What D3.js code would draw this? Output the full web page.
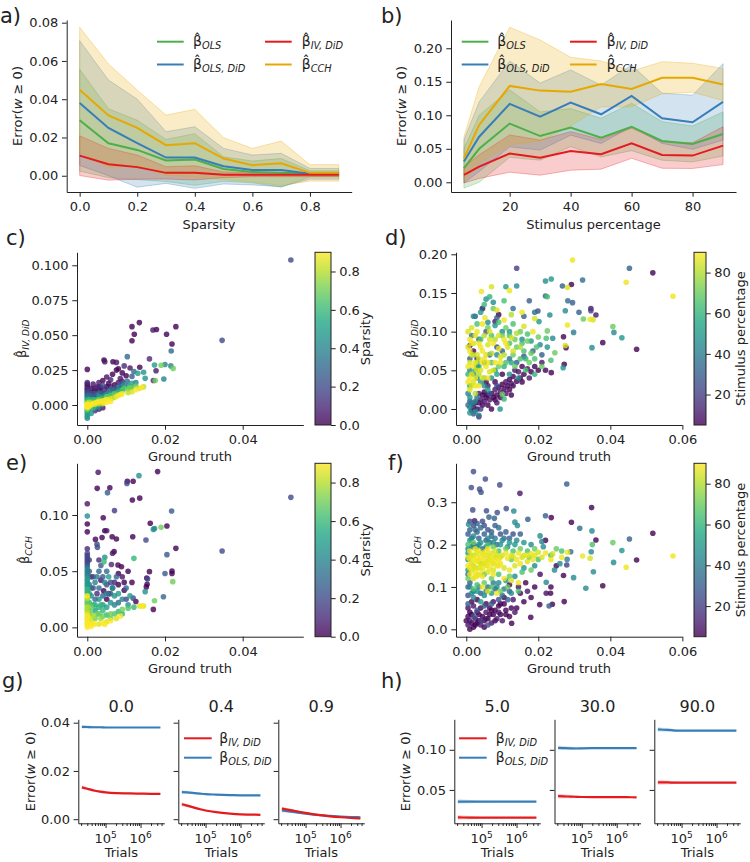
<!DOCTYPE html>
<html>
<head>
<meta charset="utf-8">
<script src="https://cdn.jsdelivr.net/npm/d3@7"></script>
<style>
  body { margin: 0; background: #fff; }
  svg text { font-family: "DejaVu Sans", sans-serif; }
</style>
</head>
<body>
<svg id="fig" width="750" height="862"></svg>
<script>
// ---------- data: panel a (sparsity sweep) ----------
const sparsity = [0, 0.1, 0.2, 0.3, 0.4, 0.5, 0.6, 0.7, 0.8, 0.9];
const aOLS      = [0.029, 0.017, 0.0135, 0.008, 0.0085, 0.0035, 0.002, 0.0015, 0.001, 0.001];
const aOLSsd    = [0.0266, 0.018, 0.0155, 0.011, 0.0135, 0.0064, 0.0057, 0.0075, 0.0016, 0.0016];
const aOLSDiD   = [0.038, 0.025, 0.017, 0.0095, 0.0095, 0.005, 0.003, 0.003, 0.001, 0.001];
const aOLSDiDsd = [0.0326, 0.025, 0.023, 0.0135, 0.0161, 0.0093, 0.0078, 0.0087, 0.0028, 0.0028];
const aIV       = [0.0105, 0.006, 0.0045, 0.0015, 0.0015, 0.0005, 0.0005, 0.0005, 0.0005, 0.0005];
const aIVsd     = [0.0104, 0.0083, 0.0063, 0.0032, 0.0037, 0.0015, 0.001, 0.001, 0.001, 0.001];
const aCCH      = [0.045, 0.0315, 0.025, 0.016, 0.017, 0.009, 0.0055, 0.0065, 0.0015, 0.0015];
const aCCHsd    = [0.0326, 0.0269, 0.0198, 0.0157, 0.0177, 0.0109, 0.0088, 0.0116, 0.0043, 0.0043];

// ---------- data: panel b (stimulus percentage sweep) ----------
const stimulus = [5, 10, 20, 30, 40, 50, 60, 70, 80, 90];
const bOLS      = [0.021, 0.05, 0.0876, 0.069, 0.0816, 0.0667, 0.0826, 0.0617, 0.0572, 0.0721];
const bOLSsd    = [0.0297, 0.05, 0.0504, 0.036, 0.0284, 0.0288, 0.0354, 0.0288, 0.0268, 0.0329];
const bOLSDiD   = [0.031, 0.068, 0.117, 0.098, 0.119, 0.1015, 0.129, 0.0955, 0.0896, 0.12];
const bOLSDiDsd = [0.032, 0.052, 0.064, 0.05, 0.0487, 0.0435, 0.046, 0.0375, 0.0404, 0.057];
const bIV       = [0.011, 0.0234, 0.0428, 0.0368, 0.0468, 0.0418, 0.0582, 0.0408, 0.0398, 0.0547];
const bIVsd     = [0.012, 0.0176, 0.0278, 0.0262, 0.0288, 0.0222, 0.0224, 0.0199, 0.0192, 0.0283];
const bCCH      = [0.0358, 0.0856, 0.1438, 0.1368, 0.1353, 0.1468, 0.1393, 0.156, 0.156, 0.146];
const bCCHsd    = [0.032, 0.057, 0.0875, 0.0756, 0.0513, 0.0342, 0.0267, 0.024, 0.0216, 0.024];

// ---------- data: scatter panels, [ground truth, estimate, colour value] ----------
const cIV = [
  [0,-0.0095,0.4],[0,-0.008,0.5],[0,-0.0065,0.4],[0,-0.005,0.5],[0,-0.004,0.6],[0,-0.003,0.7],[0,-0.002,0.8],[0,-0.001,0.9],[0,0,0.9],[0,0.001,0.8],
  [0,0.002,0.7],[0,0.003,0.6],[0,0.004,0.5],[0,0.005,0.4],[0,0.006,0.3],[0,0.007,0.3],[0,0.008,0.2],[0,0.009,0.2],[0,0.010,0.1],[0,0.011,0.1],
  [0,0.012,0.1],[0,0.0135,0],[0,0.015,0],[0,0.016,0.1],[0,0.0255,0],[0,-0.0015,0.9],[0,0.0005,0.9],[0.0005,-0.001,0.9],[0.0005,0.002,0.8],
  [0.001,0.0005,0.9],[0.0015,0.001,0.9],[0.002,0.0015,0.85],[0.0025,0.002,0.9],[0.003,0.0025,0.9],[0.0035,0.0025,0.85],[0.004,0.003,0.9],[0.0045,0.0035,0.8],
  [0.005,0.004,0.9],[0.006,0.0045,0.85],[0.0065,0.005,0.8],[0.0075,0.006,0.9],[0.008,0.007,0.85],[0.0085,0.0075,0.9],[0.009,0.008,0.9],[0.0105,0.009,0.8],
  [0.0115,0.0095,0.85],[0.0125,0.011,0.9],[0.0133,0.0118,0.85],[0.014,0.0125,0.9],[0.0145,0.013,0.8],
  [0.001,0.002,0.7],[0.002,0.003,0.65],[0.003,0.004,0.7],[0.004,0.005,0.6],[0.005,0.006,0.7],[0.006,0.007,0.65],[0.007,0.008,0.7],[0.008,0.009,0.6],
  [0.009,0.0105,0.65],[0.0105,0.0115,0.7],[0.0115,0.0125,0.6],[0.0125,0.0135,0.7],[0.0175,0.0175,0.7],[0.019,0.0285,0.7],[0.0221,0.0262,0.7],[0.0095,0.012,0.65],[0.011,0.0125,0.7],
  [0.001,0.003,0.5],[0.002,0.004,0.45],[0.003,0.006,0.5],[0.004,0.0055,0.4],[0.005,0.0075,0.45],[0.006,0.008,0.5],[0.007,0.0095,0.4],[0.008,0.0105,0.5],
  [0.009,0.0115,0.45],[0.0095,0.0145,0.45],[0.0105,0.0135,0.4],[0.0115,0.0155,0.5],[0.0125,0.016,0.4],[0.013,0.0227,0.5],[0.0145,0.0235,0.45],[0.0149,0.0191,0.45],
  [0.0173,0.0286,0.5],[0.0197,0.0186,0.4],[0.02,0.029,0.4],[0.0215,0.028,0.4],[0.002,-0.002,0.5],[0.003,-0.001,0.45],[0.0015,0.0015,0.5],
  [0.001,0.006,0.3],[0.002,0.007,0.25],[0.003,0.0085,0.3],[0.004,0.008,0.2],[0.005,0.0095,0.25],[0.006,0.011,0.3],[0.007,0.012,0.2],[0.008,0.013,0.3],
  [0.009,0.015,0.25],[0.0103,0.0346,0.3],[0.0103,0.017,0.3],[0.012,0.024,0.3],[0.0216,0.0387,0.3],[0.0524,0.1038,0.2],[0.0347,0.0463,0.2],[0.0115,0.0205,0.25],[0.004,0.014,0.2],
  [0.001,0.009,0.05],[0.001,0.012,0],[0.0015,0.015,0.05],[0.002,0.01,0],[0.0025,0.013,0.1],[0.003,0.011,0],[0.003,0.016,0.05],[0.0035,0.0125,0],
  [0.004,0.0175,0],[0.0043,0.0322,0],[0.0045,0.031,0.05],[0.005,0.013,0],[0.005,0.02,0.05],[0.0055,0.0155,0],[0.006,0.018,0.1],[0.0066,0.031,0],
  [0.0065,0.022,0],[0.007,0.0145,0],[0.0075,0.0305,0.05],[0.0075,0.025,0],[0.008,0.026,0],[0.0085,0.019,0.05],[0.009,0.023,0],[0.0095,0.028,0.1],
  [0.01,0.021,0],[0.0115,0.0561,0],[0.0134,0.059,0],[0.0121,0.0506,0],[0.0115,0.046,0],[0.0169,0.0537,0.05],[0.0178,0.054,0],[0.0204,0.0506,0],
  [0.0228,0.0561,0],[0.0218,0.0437,0],[0.016,0.033,0.1],[0.017,0.0175,0.1],[0.0135,0.027,0],[0.011,0.0265,0.05],[0.003,-0.003,0.1],[0.002,-0.004,0.1],
  [0.004,-0.002,0.05],[0.0015,0.006,0.1],[0.0025,0.005,0.05],[0.0177,0.0245,0.05],
  [0.0005,0.004,0.6],[0.0005,0.007,0.3],[0.0005,0.01,0.15],[0.001,0,0.85],[0.0015,0.004,0.6],[0.0015,0.008,0.2],[0.002,0.0005,0.85],[0.0025,0.006,0.3],
  [0.0025,0.0035,0.6],[0.003,0.001,0.8],[0.0035,0.005,0.5],[0.0035,0.009,0.1],[0.004,0.001,0.85],[0.0045,0.007,0.4],[0.0045,0.011,0.1],[0.005,0.002,0.9],
  [0.0055,0.0075,0.3],[0.006,0.0025,0.9],[0.006,0.013,0.05],[0.0065,0.0095,0.3],[0.007,0.006,0.6],[0.0075,0.011,0.15],[0.008,0.016,0.05],[0.0085,0.012,0.3],
  [0.009,0.017,0.1],[0.0005,-0.003,0.45],[0.001,-0.006,0.45],[0.0015,-0.002,0.6],[0.003,0.013,0.1],[0.002,0.012,0.05]
];
const dIV = [
  [0.0295,0.1927,88],[0.0444,0.1638,88],[0.0574,0.1457,88],[0.0281,0.157,85],[0.0344,0.116,88],[0.0352,0.1155,85],[0.0281,0.1086,88],[0.0275,0.082,85],
  [0.0042,0.152,88],[0.007,0.158,85],[0.012,0.153,88],[0.0085,0.128,85],[0.0052,0.118,88],[0.0015,0.105,85],[0.003,0.1,88],[0.005,0.095,80],
  [0.001,0.09,88],[0.002,0.085,85],[0.004,0.08,88],[0.006,0.083,85],[0.008,0.09,80],[0.001,0.075,88],[0.003,0.07,85],[0.005,0.065,88],
  [0.007,0.072,80],[0.009,0.078,85],[0.011,0.085,88],[0.0125,0.092,85],[0.014,0.098,80],[0.016,0.107,85],[0.0185,0.1,88],[0.001,0.06,85],
  [0.002,0.055,88],[0.004,0.05,85],[0.0055,0.055,88],[0.0035,0.045,80],[0.001,0.04,88],[0.002,0.035,85],[0.0035,0.03,88],[0.001,0.025,85],
  [0.0025,0.02,80],[0.0065,0.048,85],[0.008,0.06,88],[0.0095,0.067,85],[0.0105,0.07,80],[0.013,0.075,85],[0.015,0.08,80],[0.0155,0.125,88],
  [0.019,0.117,85],[0.0105,0.115,88],[0.0125,0.122,80],
  [0.0005,0.035,88],[0.0015,0.045,85],[0.0025,0.04,88],[0.003,0.05,85],[0.0045,0.06,88],[0.0035,0.065,85],[0.0025,0.06,88],[0.0015,0.07,85],
  [0.0045,0.075,88],[0.0055,0.07,85],[0.006,0.06,88],[0.0065,0.09,85],[0.0035,0.085,88],[0.0025,0.095,85],[0.0045,0.11,88],[0.0065,0.1,85],
  [0.0075,0.085,88],[0.009,0.095,85],[0.0105,0.09,88],[0.0115,0.08,85],[0.0095,0.06,88],[0.0075,0.05,85],[0.0005,0.055,88],[0.0005,0.08,85],
  [0.0015,0.085,88],[0.0005,0.1,85],[0.0025,0.03,88],[0.0045,0.04,85],[0.006,0.04,88],[0.0015,0.03,85],
  [0.0407,0.1065,70],[0.0225,0.145,65],[0.0246,0.0728,70],[0.0222,0.0915,65],[0.0225,0.101,70],[0.0325,0.1164,70],[0.003,0.11,65],[0.006,0.105,70],
  [0.009,0.112,65],[0.011,0.105,70],[0.013,0.11,65],[0.015,0.1,70],[0.017,0.097,65],[0.02,0.093,70],[0.007,0.095,65],[0.01,0.095,70],
  [0.012,0.085,65],[0.014,0.08,70],[0.016,0.075,65],[0.018,0.072,70],[0.019,0.065,65],[0.0175,0.06,70],[0.015,0.065,65],[0.013,0.07,70],
  [0.011,0.06,65],[0.009,0.055,70],[0.007,0.06,65],[0.005,0.04,70],[0.003,0.06,65],[0.002,0.07,70],[0.004,0.09,65],[0.0135,0.055,70],
  [0.0165,0.05,65],[0.021,0.055,70],[0.01,0.019,70],[0.0105,0.013,62],[0.019,0.045,60],[0.0075,0.13,70],[0.0105,0.14,65],[0.005,0.135,62],
  [0.0065,0.145,60],[0.0235,0.063,65],
  [0.012,0.095,65],[0.0135,0.09,70],[0.0155,0.085,65],[0.017,0.088,70],[0.0195,0.08,65],[0.0165,0.065,60],[0.0125,0.06,55],[0.0105,0.055,60],
  [0.0085,0.045,55],[0.0025,0.05,60],[0.0035,0.055,55],[0.0005,0.045,60],[0.001,0.03,55],[0.0005,0.02,40],[0.0015,0.008,40],[0.0005,0.005,35],
  [0.041,0.099,45],[0.0432,0.0922,50],[0.0349,0.0793,45],[0.0236,0.168,50],[0.022,0.1655,45],[0.024,0.0915,45],[0.0232,0.1216,45],[0.0202,0.113,50],
  [0.0269,0.0534,50],[0.0275,0.127,45],[0.0094,0,48],[0.0055,0.142,48],[0.014,0.159,45],[0.011,0.158,50],[0.0075,0.138,45],[0.002,0.12,45],
  [0.004,0.125,50],[0.006,0.112,45],[0.008,0.108,50],[0.01,0.1,45],[0.012,0.1,50],[0.0155,0.09,45],[0.018,0.088,50],[0.0205,0.083,45],
  [0.0225,0.08,50],[0.001,0.05,45],[0.002,0.045,50],[0.003,0.04,45],[0.004,0.035,50],[0.005,0.03,45],[0.006,0.025,50],[0.007,0.04,45],
  [0.008,0.05,50],[0.0085,0.07,45],[0.001,0.015,50],[0.0025,0.01,45],[0.001,0.002,45],[0.0025,-0.003,45],[0.001,-0.005,50],[0.0035,-0.008,40],
  [0.012,0.045,50],[0.0145,0.04,45],
  [0.014,0.182,20],[0.0453,0.182,30],[0.0323,0.1668,35],[0.0267,0.159,30],[0.022,0.146,30],[0.0313,0.125,30],[0.0295,0.1375,30],[0.0282,0.14,35],
  [0.0298,0.099,40],[0.0199,0.1267,25],[0.0346,0.127,20],[0.0045,0.13,25],[0.0025,0.12,30],[0.0015,0.095,35],[0.0035,0.09,30],[0.0055,0.1,25],
  [0.0085,0.118,30],[0.013,0.13,35],[0.016,0.12,30],[0.0175,0.14,30],[0.019,0.125,35],[0.001,0.065,30],[0.003,0.055,25],[0.005,0.06,35],
  [0.0065,0.07,30],[0.0085,0.08,25],[0.01,0.075,30],[0.012,0.065,35],[0.014,0.06,30],[0.016,0.068,25],[0.0185,0.075,30],[0.021,0.07,30],
  [0.001,0.01,30],[0.002,0.005,25],[0.003,0.015,35],[0.004,0,20],[0.002,-0.006,25],[0.0035,-0.01,15],[0.0065,0.02,30],[0.0085,0.03,25],
  [0.0518,0.176,5],[0.0379,0.0858,5],[0.0473,0.0772,5],[0.0346,0.13,10],[0.036,0.1216,10],[0.0292,0.161,5],[0.027,0.0935,5],[0.0277,0.0793,5],
  [0.0272,0.0578,5],[0.0236,0.047,5],[0.009,0.122,5],[0.008,0.113,10],[0.0045,0.13,10],[0.001,0.082,10],[0.002,0.075,5],[0.003,0.065,10],
  [0.003,0,5],[0.0045,0.005,5],[0.005,0.01,10],[0.0055,0.015,5],[0.006,0.005,5],[0.0065,0.012,10],[0.007,0.02,5],[0.0075,0.015,5],
  [0.008,0.025,10],[0.0085,0.018,5],[0.009,0.028,5],[0.0095,0.022,10],[0.01,0.032,5],[0.0105,0.026,5],[0.011,0.035,10],[0.0115,0.03,5],
  [0.012,0.038,5],[0.0125,0.033,10],[0.013,0.042,5],[0.014,0.036,5],[0.0145,0.048,10],[0.015,0.04,5],[0.016,0.045,5],[0.017,0.052,10],
  [0.018,0.048,5],[0.019,0.055,5],[0.021,0.06,10],[0.022,0.05,5],[0.0155,0.055,5],[0.0135,0.05,10],[0.01,0.045,5],[0.008,0.035,5],
  [0.006,0.03,10],[0.005,0.022,5],[0.004,0.012,10],[0.002,0.002,5],[0.0035,0.008,5],[0.0015,-0.002,10],[0.007,0,5],[0.0085,0.008,10],
  [0.0025,0.008,5],[0.0045,0.018,5],[0.006,0.018,5],[0.008,0.012,5],[0.0095,0.015,5],[0.011,0.02,10],[0.012,0.025,5],[0.013,0.03,5],
  [0.0125,0.018,5],[0.0155,0.035,5],[0.0175,0.04,10],[0.02,0.05,5],[0.0035,0.02,10],[0.0055,0.035,5]
];
const eCCH = [
  [0,0,0.9],[0,0.002,0.9],[0,0.004,0.85],[0,0.006,0.9],[0,0.008,0.8],[0,0.01,0.9],[0,0.012,0.85],[0,0.014,0.8],[0,0.016,0.7],[0,0.018,0.8],
  [0,0.02,0.7],[0,0.022,0.6],[0,0.024,0.7],[0,0.026,0.8],[0,0.028,0.9],[0,0.03,0.6],[0,0.032,0.5],[0,0.034,0.6],[0,0.036,0.5],[0,0.038,0.4],
  [0,0.04,0.5],[0,0.042,0.4],[0,0.044,0.5],[0,0.046,0.3],[0,0.048,0.4],[0,0.05,0.3],[0,0.052,0.4],[0,0.054,0.3],[0,0.056,0.2],[0,0.058,0.2],
  [0,0.06,0.1],[0,0.062,0.2],[0,0.064,0.1],[0,0.066,0.2],[0,0.07,0.1],[0,0.085,0],[0,0.092,0],[0,0.099,0.45],[0,0.11,0.05],
  [0.001,0.001,0.9],[0.001,0.005,0.85],[0.0015,0.003,0.9],[0.001,0.012,0.7],[0.0015,0.02,0.6],[0.002,0.008,0.7],[0.002,0.015,0.5],[0.002,0.025,0.3],
  [0.0015,0.035,0.2],[0.001,0.045,0.1],[0.002,0.04,0.4],[0.0025,0.03,0.1],[0.0021,0.0783,0],[0.0025,0.074,0.2],[0.0026,0.0712,0.2],[0.003,0.06,0.1],
  [0.003,0.05,0.3],[0.0028,0.138,0.05],[0.00255,0.1237,0],
  [0.003,0.003,0.85],[0.004,0.004,0.9],[0.005,0.005,0.85],[0.006,0.006,0.9],[0.0075,0.008,0.85],[0.0085,0.01,0.9],[0.0135,0.019,0.85],[0.014,0.019,0.9],
  [0.0145,0.019,0.85],[0.0045,0.0025,0.9],
  [0.003,0.012,0.65],[0.004,0.01,0.7],[0.005,0.011,0.6],[0.006,0.012,0.7],[0.007,0.012,0.65],[0.008,0.014,0.6],[0.009,0.016,0.7],[0.0105,0.017,0.65],
  [0.012,0.018,0.6],[0.0043,0.0585,0.6],[0.012,0.0614,0.6],[0.0173,0.0237,0.7],[0.022,0.0407,0.7],[0.019,0.089,0.7],[0.0035,0.02,0.6],
  [0.003,0.025,0.45],[0.004,0.02,0.5],[0.005,0.03,0.4],[0.006,0.022,0.45],[0.0065,0.035,0.5],[0.007,0.028,0.45],[0.008,0.03,0.5],[0.009,0.025,0.4],
  [0.0105,0.02,0.45],[0.011,0.028,0.5],[0.0045,0.0623,0.45],[0.0149,0.0318,0.45],[0.0133,0.135,0.45],[0.017,0.0872,0.45],[0.0045,0.04,0.4],[0.0055,0.045,0.5],
  [0.003,0.035,0.3],[0.004,0.045,0.25],[0.005,0.05,0.3],[0.006,0.04,0.2],[0.0075,0.045,0.3],[0.0102,0.128,0.2],[0.0052,0.1199,0.25],[0.007,0.1039,0.15],
  [0.0217,0.1036,0.25],[0.0151,0.0777,0.2],[0.0205,0.0647,0.25],[0.02,0.048,0.25],[0.0196,0.0273,0.3],[0.0524,0.1157,0.2],[0.0347,0.068,0.2],[0.0173,0.088,0.4],
  [0.0155,0.043,0.2],[0.0118,0.026,0.2],[0.01,0.035,0.3],[0.0035,0.055,0.25],
  [0.0181,0.1386,0],[0.0103,0.13,0],[0.0118,0.13,0],[0.0058,0.1243,0],[0.0116,0.1134,0],[0.0135,0.115,0],[0.0041,0.0976,0],[0.0162,0.0926,0],
  [0.0205,0.0902,0],[0.0045,0.086,0],[0.005,0.086,0.05],[0.0038,0.08,0],[0.0064,0.0807,0],[0.0075,0.0786,0],[0.0117,0.0807,0],[0.0228,0.0703,0],
  [0.0069,0.0674,0],[0.0065,0.066,0.05],[0.0079,0.0555,0],[0.0088,0.054,0],[0.0218,0.0501,0],[0.0218,0.048,0],[0.017,0.016,0],[0.016,0.0496,0],
  [0.0153,0.044,0],[0.0154,0.0383,0],[0.0152,0.036,0],[0.008,0.048,0],[0.009,0.045,0.05],[0.0095,0.04,0],[0.0065,0.035,0],[0.0055,0.03,0.05],
  [0.008,0.038,0],[0.0095,0.033,0],[0.0115,0.04,0],[0.0125,0.023,0],[0.005,0.025,0],[0.0035,0.042,0.05],[0.0042,0.0325,0],[0.0105,0.05,0],[0.0062,0.056,0.1],
  [0.0005,0.003,0.9],[0.0005,0.007,0.85],[0.0005,0.015,0.7],[0.0005,0.022,0.6],[0.0005,0.03,0.5],[0.0005,0.038,0.35],[0.0005,0.05,0.25],[0.0005,0.06,0.15],
  [0.001,0.018,0.7],[0.001,0.028,0.45],[0.001,0.035,0.3],[0.0015,0.01,0.8],[0.0015,0.045,0.2],[0.002,0.003,0.9],[0.002,0.02,0.55],[0.0025,0.012,0.7],
  [0.0025,0.045,0.35],[0.003,0.018,0.55],[0.0035,0.008,0.75],[0.004,0.015,0.6],[0.004,0.028,0.3],[0.005,0.018,0.5],[0.005,0.038,0.2],[0.006,0.008,0.7],
  [0.006,0.03,0.25],[0.007,0.02,0.4],[0.007,0.04,0.1],[0.008,0.022,0.3],[0.009,0.012,0.6],[0.01,0.025,0.2]
];
const fCCH = [
  [0.0574,0.1732,88],[0.0444,0.1465,88],[0.0323,0.1732,88],[0.0344,0.1677,85],[0.0281,0.182,88],[0.0265,0.17,88],[0.024,0.178,85],[0.022,0.18,88],
  [0.02,0.182,85],[0.018,0.178,88],[0.016,0.175,85],[0.0145,0.18,88],[0.013,0.172,85],[0.0115,0.168,88],[0.01,0.175,85],[0.009,0.165,88],
  [0.008,0.17,85],[0.007,0.16,88],[0.006,0.175,85],[0.005,0.165,88],[0.004,0.155,85],[0.003,0.16,88],[0.002,0.15,85],[0.001,0.165,88],
  [0.0015,0.14,85],[0.0025,0.135,88],[0.0035,0.145,85],[0.0045,0.14,88],[0.0055,0.15,85],[0.0065,0.145,88],[0.0075,0.14,85],[0.0085,0.15,88],
  [0.001,0.13,88],[0.002,0.12,85],[0.003,0.125,88],[0.004,0.17,88],[0.002,0.175,85],[0.001,0.185,88],[0.003,0.18,85],[0.0055,0.185,88],
  [0.007,0.18,85],[0.0095,0.155,88],[0.0105,0.145,85],[0.012,0.14,88],[0.0135,0.15,85],[0.015,0.155,88],[0.017,0.16,85],[0.0185,0.165,88],
  [0.021,0.17,85],[0.0235,0.165,88],[0.0105,0.12,88],[0.0125,0.115,85],[0.0145,0.11,88],[0.0045,0.1,88],[0.006,0.09,85],[0.0085,0.085,88],
  [0.0005,0.15,88],[0.0005,0.17,85],[0.0025,0.19,85],
  [0.001,0.145,88],[0.0015,0.155,85],[0.002,0.165,88],[0.0025,0.145,85],[0.003,0.17,88],[0.0035,0.16,85],[0.004,0.145,88],[0.0045,0.155,85],
  [0.005,0.175,88],[0.0055,0.16,85],[0.006,0.155,88],[0.0065,0.165,85],[0.007,0.17,88],[0.0075,0.155,85],[0.008,0.16,88],[0.0085,0.175,85],
  [0.009,0.15,88],[0.0095,0.17,85],[0.0025,0.125,88],[0.0035,0.13,85],[0.0045,0.125,88],[0.006,0.135,85],[0.0075,0.13,88],[0.0015,0.175,85],
  [0.0035,0.185,88],[0.0045,0.18,85],[0.006,0.19,88],[0.008,0.185,85],[0.011,0.18,88],[0.0125,0.175,85],[0.014,0.165,88],[0.0155,0.17,85],
  [0.017,0.175,88],[0.019,0.175,85],
  [0.0407,0.2047,70],[0.035,0.2,65],[0.025,0.19,70],[0.0265,0.185,65],[0.019,0.19,70],[0.017,0.185,65],[0.015,0.19,70],[0.013,0.185,65],
  [0.011,0.19,70],[0.009,0.185,65],[0.0075,0.195,70],[0.006,0.2,65],[0.0175,0.17,70],[0.02,0.165,65],[0.0125,0.165,70],[0.005,0.13,65],
  [0.007,0.12,70],[0.009,0.13,65],[0.012,0.125,70],[0.0155,0.135,65],[0.018,0.14,70],[0.003,0.105,65],[0.005,0.11,70],[0.007,0.1,65],
  [0.0115,0.1,70],[0.0145,0.09,65],[0.0095,0.09,70],[0.002,0.095,65],[0.0005,0.12,70],[0.0005,0.2,65],[0.002,0.205,70],[0.0235,0.175,62],
  [0.0432,0.1858,50],[0.0409,0.158,45],[0.0353,0.136,45],[0.0332,0.0969,45],[0.0298,0.122,45],[0.0315,0.2386,35],[0.0349,0.2323,45],[0.0347,0.183,45],
  [0.0205,0.2205,45],[0.0135,0.253,45],[0.0142,0.245,45],[0.0132,0.2795,45],[0.00065,0.248,45],[0.0222,0.111,45],[0.0214,0.195,45],[0.021,0.207,40],
  [0.018,0.2,45],[0.016,0.205,50],[0.014,0.21,45],[0.012,0.205,50],[0.01,0.21,45],[0.008,0.215,40],[0.006,0.215,45],[0.004,0.205,50],
  [0.002,0.22,45],[0.001,0.21,50],[0.003,0.195,45],[0.0005,0.19,45],[0.0005,0.18,50],[0.001,0.1,45],[0.003,0.09,50],[0.005,0.08,45],
  [0.007,0.085,50],[0.009,0.11,45],[0.011,0.115,50],[0.0135,0.125,45],[0.016,0.145,50],[0.019,0.15,45],[0.0005,0.14,50],[0.002,0.075,45],
  [0.004,0.065,50],[0.0245,0.14,45],[0.026,0.155,45],[0.028,0.165,40],
  [0.0015,0.085,45],[0.0035,0.1,40],[0.0055,0.09,45],[0.0075,0.11,40],[0.0085,0.1,45],[0.0105,0.095,40],[0.0125,0.085,45],
  [0.0015,0.195,40],[0.0035,0.2,45],[0.0055,0.195,45],[0.0075,0.205,45],[0.0095,0.2,50],[0.0115,0.195,45],[0.0135,0.2,50],[0.0005,0.165,40],
  [0.0005,0.13,35],[0.0005,0.1,30],
  [0.002,0.3724,25],[0.0014,0.335,25],[0.0053,0.355,25],[0.0037,0.331,25],[0.0041,0.3236,25],[0.0093,0.341,25],[0.0279,0.343,30],[0.0453,0.2134,30],
  [0.022,0.268,30],[0.0171,0.26,30],[0.0111,0.285,25],[0.0086,0.2756,25],[0.0063,0.265,30],[0.0078,0.262,30],[0.0056,0.28,25],[0.0018,0.282,25],
  [0.0279,0.152,20],[0.029,0.183,35],[0.023,0.055,30],[0.001,0.235,30],[0.002,0.245,25],[0.003,0.23,30],[0.004,0.24,35],[0.005,0.225,30],
  [0.006,0.235,25],[0.007,0.23,30],[0.009,0.24,35],[0.011,0.23,30],[0.013,0.225,25],[0.015,0.225,30],[0.0005,0.225,30],[0.001,0.255,25],
  [0.003,0.25,30],[0.0045,0.255,25],[0.002,0.2,30],[0.0045,0.19,35],[0.0065,0.205,30],[0.0085,0.2,35],[0.001,0.11,30],[0.002,0.09,35],
  [0.004,0.085,30],[0.006,0.1,35],[0.008,0.095,30],[0.01,0.08,35],[0.012,0.09,30],[0.0005,0.06,30],[0.003,0.045,25],[0.005,0.055,30],
  [0.007,0.06,30],[0.009,0.07,25],[0.0115,0.07,30],[0.002,0.03,25],[0.004,0.02,20],[0.006,0.01,25],[0.0005,0.08,25],
  [0.0015,0.215,30],[0.0025,0.235,35],[0.0035,0.215,30],[0.005,0.245,25],[0.0055,0.21,30],[0.007,0.22,35],[0.008,0.245,30],[0.0095,0.225,25],
  [0.0105,0.215,35],[0.012,0.215,30],
  [0.0149,0.321,10],[0.0348,0.2874,5],[0.0292,0.2528,5],[0.036,0.211,5],[0.0518,0.2268,5],[0.0473,0.1638,5],[0.0379,0.103,5],[0.027,0.127,5],
  [0.0272,0.0654,5],[0.0234,0.085,5],[0.0222,0.085,8],[0.0239,0.059,5],[0.0204,0.0583,5],[0.0179,0.0283,5],[0.0126,0.0142,5],[0.0236,0.2638,5],
  [0.0023,0.256,10],[0,0.02,5],[0.0005,0.01,10],[0.001,0,5],[0.0015,0.015,5],[0.002,0.005,5],[0.0025,0.025,10],[0.003,0.015,5],
  [0.0035,0.035,5],[0.004,0.01,10],[0.0045,0.03,5],[0.005,0.02,5],[0.0055,0.04,10],[0.006,0.025,5],[0.0065,0.05,5],[0.007,0.015,10],
  [0.0075,0.035,5],[0.008,0.045,5],[0.0085,0.025,10],[0.009,0.055,5],[0.0095,0.035,5],[0.01,0.02,10],[0.0105,0.06,5],[0.011,0.045,5],
  [0.012,0.03,5],[0.013,0.07,10],[0.014,0.05,5],[0.015,0.085,5],[0.016,0.065,5],[0.017,0.09,10],[0.018,0.075,5],[0.019,0.1,5],
  [0.0165,0.11,5],[0.0145,0.1,8],[0.012,0.105,5],[0.001,0.04,5],[0.002,0.055,10],[0.003,0.07,5],[0.0005,0.05,8],[0.0015,0.065,5],
  [0.025,0.15,5],[0.0235,0.1,5],[0.0205,0.13,8],[0.022,0.21,5],
  [0.0005,0.03,5],[0.001,0.02,10],[0.0015,0.035,5],[0.0025,0.01,5],[0.003,0.04,10],[0.0035,0.02,5],[0.004,0.05,5],[0.005,0.005,5],
  [0.0055,0.025,10],[0.0065,0.035,5],[0.007,0.045,5],[0.008,0.02,5],[0.009,0.04,10],[0.0095,0.06,5],[0.011,0.035,5],[0.0125,0.05,5],
  [0.0135,0.04,10],[0.0055,0.06,5],[0.0075,0.065,8],[0.0105,0.075,5]
];

// ---------- data: panels g/h (error vs number of trials) ----------
const trials = [2.1e4, 3e4, 5e4, 7e4, 1e5, 2e5, 5e5, 1e6, 2e6, 3.7e6];
const gTitles = ["0.0", "0.4", "0.9"];
const gIV = [
  [0.0132, 0.0126, 0.0118, 0.0114, 0.0111, 0.0108, 0.0107, 0.0106, 0.0105, 0.0105],
  [0.0062, 0.0056, 0.0047, 0.0041, 0.0036, 0.0029, 0.0023, 0.002, 0.0019, 0.0018],
  [0.0044, 0.004, 0.0034, 0.003, 0.0026, 0.0019, 0.0012, 0.0008, 0.0005, 0.0003]
];
const gOLS = [
  [0.0383, 0.0382, 0.0381, 0.0381, 0.038, 0.038, 0.038, 0.038, 0.038, 0.038],
  [0.0112, 0.0111, 0.0108, 0.0106, 0.0104, 0.0102, 0.01, 0.0099, 0.0099, 0.0099],
  [0.0036, 0.0033, 0.0029, 0.0026, 0.0023, 0.0018, 0.0014, 0.0011, 0.0009, 0.0008]
];
const gSpread = [0.0008, 0.0006, 0.0005, 0.0004, 0.0003, 0.0002, 0.00015, 0.0001, 0.0001, 0.0001];
const hTitles = ["5.0", "30.0", "90.0"];
const hIV = [
  [0.0158, 0.0156, 0.0155, 0.0155, 0.0154, 0.0154, 0.0154, 0.0154, 0.0154, 0.0154],
  [0.0422, 0.042, 0.0416, 0.0414, 0.0412, 0.041, 0.041, 0.0409, 0.0409, 0.0408],
  [0.0594, 0.0594, 0.0592, 0.0591, 0.059, 0.059, 0.059, 0.059, 0.059, 0.059]
];
const hOLS = [
  [0.0355, 0.0355, 0.0354, 0.0354, 0.0354, 0.0354, 0.0354, 0.0354, 0.0354, 0.0354],
  [0.1025, 0.1022, 0.1018, 0.1016, 0.1018, 0.102, 0.102, 0.102, 0.102, 0.102],
  [0.1255, 0.125, 0.1245, 0.124, 0.1238, 0.1238, 0.1238, 0.1238, 0.1238, 0.1238]
];
const hSpread = [0.003, 0.0025, 0.002, 0.0015, 0.001, 0.0007, 0.0005, 0.0004, 0.0003, 0.0003];

// ---------- style ----------
const INK = "#222";
const FS = 13;
const GREEN = "#4daf4a", BLUE = "#377eb8", RED = "#e41a1c", GOLD = "#e6a800";

const svg = d3.select("#fig");
const defs = svg.append("defs");

function styleAxis(a) {
  a.attr("font-family", null).attr("font-size", null);
  a.select(".domain").attr("stroke", INK).attr("stroke-width", 1);
  a.selectAll(".tick line").attr("stroke", INK).attr("stroke-width", 1);
  a.selectAll(".tick text").attr("fill", INK).attr("font-size", FS);
}

function frame(xs, ys, o) {
  const g = svg.append("g");
  const [l] = xs.range();
  const [b] = ys.range();
  const xa = g.append("g").attr("transform", `translate(0,${b})`)
    .call(d3.axisBottom(xs).tickValues(o.xt).tickFormat(o.xf).tickSize(4.7).tickSizeOuter(0).tickPadding(5));
  const ya = g.append("g").attr("transform", `translate(${l},0)`)
    .call(d3.axisLeft(ys).tickValues(o.yt).tickFormat(o.yf).tickSize(4.7).tickSizeOuter(0).tickPadding(3.7));
  styleAxis(xa);
  styleAxis(ya);
  return {xa, ya};
}

// beta with optional hat and italic subscript
function beta(sel, hat, sub, size) {
  sel.append("tspan").attr("font-size", size).text(hat ? "\u03B2\u0302" : "\u03B2");
  sel.append("tspan").attr("font-size", size * 0.7).attr("font-style", "italic")
    .attr("dy", size * 0.22).text(sub);
  return sel;
}

function errorLabel(x, y) {
  const t = svg.append("text").attr("transform", `translate(${x},${y}) rotate(-90)`)
    .attr("text-anchor", "middle").attr("font-size", FS).attr("fill", INK);
  t.append("tspan").text("Error(");
  t.append("tspan").attr("font-style", "italic").text("w");
  t.append("tspan").text(" \u2265 0)");
}

function text(x, y, s, o = {}) {
  return svg.append("text").attr("x", x).attr("y", y).attr("fill", INK)
    .attr("font-size", o.size || FS).attr("text-anchor", o.anchor || "start").text(s);
}

function rotText(x, y, s) {
  return svg.append("text").attr("transform", `translate(${x},${y}) rotate(-90)`)
    .attr("text-anchor", "middle").attr("font-size", FS).attr("fill", INK).text(s);
}

function legendItem(x1, x2, y, tx, color, hat, sub) {
  svg.append("line").attr("x1", x1).attr("x2", x2).attr("y1", y).attr("y2", y)
    .attr("stroke", color).attr("stroke-width", 2);
  const t = svg.append("text").attr("x", tx).attr("y", y + 4.5).attr("fill", INK);
  beta(t, hat, sub, 14);
}

// ---------- panels a & b ----------
function sweepPanel(p) {
  const xs = d3.scaleLinear().domain(p.xd).range([p.l, p.r]);
  const ys = d3.scaleLinear().domain(p.yd).range([p.b, p.t]);
  p.series.forEach(s => {
    const area = d3.area()
      .x((d, i) => xs(p.x[i]))
      .y0((d, i) => ys(d - s.sd[i]))
      .y1((d, i) => ys(d + s.sd[i]));
    svg.append("path").datum(s.m).attr("d", area)
      .attr("fill", s.c).attr("fill-opacity", 0.22)
      .attr("stroke", s.c).attr("stroke-opacity", 0.3).attr("stroke-width", 1);
  });
  p.series.forEach(s => {
    const line = d3.line().x((d, i) => xs(p.x[i])).y(d => ys(d));
    svg.append("path").datum(s.m).attr("d", line)
      .attr("fill", "none").attr("stroke", s.c).attr("stroke-width", 2);
  });
  frame(xs, ys, p);
}

const sweepSeries = (m) => [
  {m: m[0], sd: m[1], c: GREEN},
  {m: m[2], sd: m[3], c: BLUE},
  {m: m[4], sd: m[5], c: RED},
  {m: m[6], sd: m[7], c: GOLD}
];

sweepPanel({
  l: 66.7, r: 351.7, t: 20, b: 192, xd: [-0.045, 0.945], yd: [-0.0085, 0.0814],
  x: sparsity, xt: [0, 0.2, 0.4, 0.6, 0.8], xf: d3.format(".1f"),
  yt: [0, 0.02, 0.04, 0.06, 0.08], yf: d3.format(".2f"),
  series: sweepSeries([aOLS, aOLSsd, aOLSDiD, aOLSDiDsd, aIV, aIVsd, aCCH, aCCHsd])
});
sweepPanel({
  l: 451, r: 736, t: 20, b: 192, xd: [0.75, 94.25], yd: [-0.0145, 0.2422],
  x: stimulus, xt: [20, 40, 60, 80], xf: d3.format("d"),
  yt: [0, 0.05, 0.1, 0.15, 0.2], yf: d3.format(".2f"),
  series: sweepSeries([bOLS, bOLSsd, bOLSDiD, bOLSDiDsd, bIV, bIVsd, bCCH, bCCHsd])
});

[[157, 193, 265, 301.7], [461.7, 497.3, 570, 606.7]].forEach(([lx, tx, lx2, tx2]) => {
  legendItem(lx, lx + 26.7, 41.7, tx, GREEN, true, "OLS");
  legendItem(lx, lx + 26.7, 64.5, tx, BLUE, true, "OLS, DiD");
  legendItem(lx2, lx2 + 26.7, 41.7, tx2, RED, true, "IV, DiD");
  legendItem(lx2, lx2 + 26.7, 64.5, tx2, GOLD, true, "CCH");
});
errorLabel(21.5, 106);
errorLabel(406, 106);
text(209, 229, "Sparsity", {anchor: "middle"});
text(593.5, 229, "Stimulus percentage", {anchor: "middle"});

// ---------- scatter panels ----------
function colorbar(x0, x1, t, b, dom, ticks, fmt, label, lx) {
  const id = "cb" + Math.round(x0) + "_" + Math.round(t);
  const grad = defs.append("linearGradient").attr("id", id)
    .attr("x1", 0).attr("y1", 1).attr("x2", 0).attr("y2", 0);
  d3.range(0, 1.0001, 0.1).forEach(v =>
    grad.append("stop").attr("offset", v).attr("stop-color", d3.interpolateViridis(v)));
  svg.append("rect").attr("x", x0).attr("y", t).attr("width", x1 - x0).attr("height", b - t)
    .attr("fill", `url(#${id})`).attr("fill-opacity", 0.8);
  svg.append("rect").attr("x", x0).attr("y", t).attr("width", x1 - x0).attr("height", b - t)
    .attr("fill", "none").attr("stroke", INK).attr("stroke-width", 1);
  const s = d3.scaleLinear().domain(dom).range([b, t]);
  const a = svg.append("g").attr("transform", `translate(${x1},0)`)
    .call(d3.axisRight(s).tickValues(ticks).tickFormat(fmt).tickSize(4.7).tickPadding(3.5));
  styleAxis(a);
  a.select(".domain").remove();
  rotText(lx, (t + b) / 2, label);
}

function scatterPanel(p) {
  const xs = d3.scaleLinear().domain(p.xd).range([p.l, p.r]);
  const ys = d3.scaleLinear().domain(p.yd).range([p.b, p.t]);
  const cs = d3.scaleSequential(d3.interpolateViridis).domain(p.cd);
  const pts = p.data.slice().sort((u, v) => u[2] - v[2]);
  svg.append("g").selectAll("circle").data(pts).join("circle")
    .attr("cx", d => xs(d[0])).attr("cy", d => ys(d[1])).attr("r", 2.8)
    .attr("fill", d => cs(d[2])).attr("fill-opacity", 0.8);
  frame(xs, ys, p);
}

const gtX1 = [-0.00265, 0.0556], gtX2 = [-0.00285, 0.0599];
scatterPanel({l: 77, r: 303.3, t: 252.3, b: 425, xd: gtX1, yd: [-0.0143, 0.1093], cd: [0, 0.9],
  data: cIV, xt: [0, 0.02, 0.04], xf: d3.format(".2f"), yt: [0, 0.025, 0.05, 0.075, 0.1], yf: d3.format(".3f")});
scatterPanel({l: 456, r: 682, t: 252.3, b: 425, xd: gtX2, yd: [-0.0207, 0.2026], cd: [5, 90],
  data: dIV, xt: [0, 0.02, 0.04, 0.06], xf: d3.format(".2f"), yt: [0, 0.05, 0.1, 0.15, 0.2], yf: d3.format(".2f")});
scatterPanel({l: 77, r: 303.3, t: 463.3, b: 636.7, xd: gtX1, yd: [-0.0083, 0.146], cd: [0, 0.9],
  data: eCCH, xt: [0, 0.02, 0.04], xf: d3.format(".2f"), yt: [0, 0.05, 0.1], yf: d3.format(".2f")});
scatterPanel({l: 456, r: 682, t: 463.3, b: 636.7, xd: gtX2, yd: [-0.0175, 0.392], cd: [5, 90],
  data: fCCH, xt: [0, 0.02, 0.04, 0.06], xf: d3.format(".2f"), yt: [0, 0.1, 0.2, 0.3], yf: d3.format(".1f")});

colorbar(315, 331, 252.3, 425, [0, 0.9], [0, 0.2, 0.4, 0.6, 0.8], d3.format(".1f"), "Sparsity", 369.5);
colorbar(694, 706, 252.3, 425, [5, 90], [20, 40, 60, 80], d3.format("d"), "Stimulus percentage", 744.5);
colorbar(315, 331, 463.3, 636.7, [0, 0.9], [0, 0.2, 0.4, 0.6, 0.8], d3.format(".1f"), "Sparsity", 369.5);
colorbar(694, 706, 463.3, 636.7, [5, 90], [20, 40, 60, 80], d3.format("d"), "Stimulus percentage", 744.5);

[[190, 461], [569, 461], [190, 673], [569, 673]].forEach(([x, y]) =>
  text(x, y, "Ground truth", {anchor: "middle"}));

[[26, 338.7, "IV, DiD"], [415, 338.7, "IV, DiD"], [29, 550, "CCH"], [418, 550, "CCH"]].forEach(([x, y, sub]) => {
  const t = svg.append("text").attr("transform", `translate(${x},${y}) rotate(-90)`)
    .attr("text-anchor", "middle").attr("fill", INK);
  beta(t, true, sub, FS);
});

// ---------- panels g & h ----------
function trialsPanel(p) {
  const xs = d3.scaleLog().domain([Math.pow(10, 4.22), Math.pow(10, 6.68)]).range([p.l, p.l + 86]);
  const ys = d3.scaleLinear().domain(p.yd).range([823.3, 719.3]);
  [[p.ols, BLUE], [p.iv, RED]].forEach(([m, c]) => {
    const area = d3.area().x((d, i) => xs(trials[i]))
      .y0((d, i) => ys(d - p.sp[i])).y1((d, i) => ys(d + p.sp[i]));
    svg.append("path").datum(m).attr("d", area).attr("fill", c).attr("fill-opacity", 0.2);
  });
  [[p.ols, BLUE], [p.iv, RED]].forEach(([m, c]) => {
    const line = d3.line().x((d, i) => xs(trials[i])).y(d => ys(d)).curve(d3.curveMonotoneX);
    svg.append("path").datum(m).attr("d", line).attr("fill", "none")
      .attr("stroke", c).attr("stroke-width", 2.2);
  });
  const minor = [];
  [4, 5, 6].forEach(k => d3.range(2, 10).forEach(mm => {
    const v = mm * Math.pow(10, k);
    if (v > xs.domain()[0] && v < xs.domain()[1]) minor.push(v);
  }));
  const xa = svg.append("g").attr("transform", "translate(0,823.3)")
    .call(d3.axisBottom(xs).tickValues([1e5, 1e6]).tickFormat("").tickSize(4.7).tickSizeOuter(0));
  styleAxis(xa);
  const xm = svg.append("g").attr("transform", "translate(0,823.3)")
    .call(d3.axisBottom(xs).tickValues(minor).tickFormat("").tickSize(2.7).tickSizeOuter(0));
  styleAxis(xm);
  xm.select(".domain").remove();
  [[1e5, "5"], [1e6, "6"]].forEach(([v, e]) => {
    const t = text(xs(v), 843, "10", {anchor: "middle"});
    t.append("tspan").attr("font-size", 9).attr("dy", -5).text(e);
  });
  const ya = svg.append("g").attr("transform", `translate(${p.l},0)`)
    .call(d3.axisLeft(ys).tickValues(p.yt).tickFormat(p.first ? d3.format(".2f") : "")
      .tickSize(4.7).tickSizeOuter(0).tickPadding(3.7));
  styleAxis(ya);
  text(p.l + 43, 711.7, p.title, {anchor: "middle", size: 16});
  text(p.l + 43, 856.5, "Trials", {anchor: "middle"});
}

[78.3, 178.3, 278.3].forEach((l, i) => trialsPanel({
  l, yd: [-0.0017, 0.0414], yt: [0, 0.02, 0.04], first: i === 0,
  iv: gIV[i], ols: gOLS[i], sp: gSpread, title: gTitles[i]
}));
[454.3, 554.5, 654.3].forEach((l, i) => trialsPanel({
  l, yd: [0.0084, 0.138], yt: [0.05, 0.1], first: i === 0,
  iv: hIV[i], ols: hOLS[i], sp: hSpread, title: hTitles[i]
}));
legendItem(184, 211.7, 738.3, 219.3, RED, false, "IV, DiD");
legendItem(184, 211.7, 757.7, 219.3, BLUE, false, "OLS, DiD");
legendItem(459, 486.7, 738.3, 495.7, RED, false, "IV, DiD");
legendItem(459, 486.7, 757.7, 495.7, BLUE, false, "OLS, DiD");
errorLabel(35, 771.3);
errorLabel(410, 771.3);

// ---------- panel letters ----------
[["a)", 0, 22.5], ["b)", 381, 22.5], ["c)", 6, 245], ["d)", 385, 245],
 ["e)", 6, 470], ["f)", 388, 470], ["g)", 2, 688], ["h)", 381, 688]]
  .forEach(([s, x, y]) => text(x, y, s, {size: 21}));
</script>
</body>
</html>
